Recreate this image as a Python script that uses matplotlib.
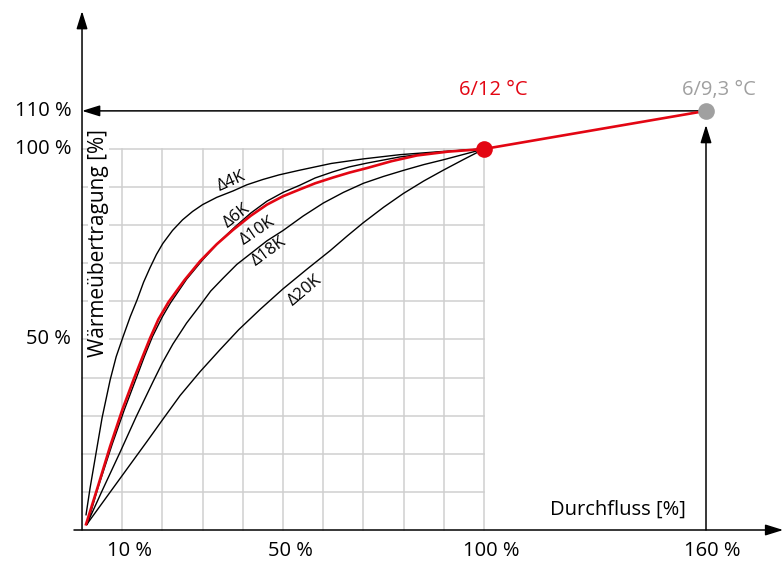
import matplotlib.pyplot as plt

# Schriftart (Myriad-aehnlich)
plt.rcParams['font.family'] = ['Open Sans', 'DejaVu Sans']

RED = '#E30613'
GREY = '#A0A0A0'
GRID = '#CFCFCF'

# Kurven: Durchfluss [%] -> Waermeuebertragung [%]
x_4k = [1, 2, 3.7, 5, 7, 8.5, 10.2, 12, 13.7, 15.3, 16.9, 18.5, 20.1, 22.5, 25,
        27.5, 30, 33.5, 37.6, 41, 45, 49, 54, 58, 62, 70, 79, 89, 100]
y_4k = [4, 11, 21.5, 29.5, 39.4, 45.5, 50.7, 56, 60.4, 65, 68.8, 72.3, 75.2, 78.6, 81.4,
        83.6, 85.4, 87.3, 89, 90.6, 92, 93.2, 94.4, 95.3, 96.2, 97.4, 98.5, 99.3, 100]

x_6k = [1.3, 4, 7.5, 10.5, 13.4, 15.5, 17.5, 20, 22, 26, 30, 34, 38, 42, 46,
        50, 54.2, 58, 62.4, 66.5, 70.9, 79, 87.3, 94, 100]
y_6k = [1.5, 11.2, 22.5, 31.5, 39.6, 45.5, 50.7, 56, 59.6, 65.8, 70.9, 75.5, 79.5, 83.2, 86.3,
        88.6, 90.5, 92.4, 94, 95.3, 96.3, 97.9, 99, 99.6, 100]

x_10k = [1.2, 5, 9.5, 13.5, 17.7, 20, 22.6, 26, 29.4, 32, 35, 38.5, 42.5, 46, 50,
         55, 60, 65, 70, 75, 80, 85, 90, 95, 100]
y_10k = [1.5, 10.3, 20.5, 29.8, 39, 43.9, 48.8, 54.3, 59, 62.7, 66, 69.7, 73, 75.9, 78.6,
         82.4, 85.8, 88.6, 91, 92.8, 94.4, 95.9, 97.2, 98.6, 100]

x_20k = [1.2, 8, 16.2, 20, 24.4, 29.4, 34.3, 39, 44.3, 50, 56, 61.7, 66,
         69.9, 75, 79.9, 85, 89.8, 95, 100]
y_20k = [1.5, 11.4, 23.3, 28.9, 35.3, 41.6, 47.3, 52.6, 57.9, 63.3, 68.5, 73.3, 77.2,
         80.6, 84.7, 88.3, 91.6, 94.4, 97.3, 100]

# rote Kurve 6/12 °C
x_red = [1, 4, 7, 10, 12.8, 15, 16.9, 19, 21.5, 25.5, 29.4, 33.5, 37.6, 42, 46,
         50, 54.2, 58, 62.4, 66.5, 70.9, 77, 83.3, 91, 100]
y_red = [1.5, 11.6, 22, 31.5, 39.4, 45.3, 50.3, 55.3, 59.8, 65.6, 70.6, 75, 78.8, 82.5, 85.4,
         87.6, 89.4, 91, 92.5, 93.8, 95, 96.8, 98.3, 99.3, 100]

# Betriebspunkte
p_red = (100, 100)
p_grey = (155.2, 110)   # schematisch als 160 % dargestellt

x_ticks = [10, 50, 100]
x_tick_labels = ['10 %', '50 %', '100 %']
y_ticks = [50, 100, 110]
y_tick_labels = ['50 %', '100 %', '110 %']

curve_labels = ['Δ4K', 'Δ6K', 'Δ10K', 'Δ18K', 'Δ20K']
label_pos = [(37.3, 91.5), (38.4, 82.5), (43.6, 78.5), (46.5, 73.0), (55.5, 63.0)]
label_rot = [24, 38, 34, 36, 40]

fig = plt.figure(figsize=(7.84, 5.63), dpi=100)
ax = fig.add_axes([0, 0, 1, 1])
ax.set_xlim(-20.4, 174.6)
ax.set_ylim(-8.66, 139.1)
ax.axis('off')

# Raster
for gx in range(10, 101, 10):
    ax.plot([gx, gx], [0, 100], color=GRID, lw=1.1, zorder=1)
for gy in range(10, 101, 10):
    ax.plot([0, 100], [gy, gy], color=GRID, lw=1.1, zorder=1)

# Achsen mit Pfeilen
arrow = dict(arrowstyle='-|>,head_length=0.9,head_width=0.28', color='black',
             lw=1.1, shrinkA=0, shrinkB=0, mutation_scale=12)
ax.annotate('', xy=(174.4, 0), xytext=(-2, 0), arrowprops=arrow, zorder=5)
ax.annotate('', xy=(0, 136.2), xytext=(0, 0), arrowprops=arrow, zorder=5)

# Hilfspfeile zum grauen Punkt
ax.annotate('', xy=(0, p_grey[1]), xytext=(p_grey[0], p_grey[1]), arrowprops=arrow, zorder=3)
ax.annotate('', xy=(p_grey[0], 106.3), xytext=(p_grey[0], 0), arrowprops=arrow, zorder=3)

# Kurven
for xs, ys in [(x_4k, y_4k), (x_6k, y_6k), (x_10k, y_10k), (x_20k, y_20k)]:
    ax.plot(xs, ys, color='black', lw=1.0, zorder=3, solid_joinstyle='round')
ax.plot(x_red, y_red, color=RED, lw=1.9, zorder=4, solid_joinstyle='round')
ax.plot([p_red[0], p_grey[0]], [p_red[1], p_grey[1]], color=RED, lw=1.9, zorder=4)

ax.plot(*p_grey, 'o', color=GREY, ms=12, mec='none', zorder=4)
ax.plot(*p_red, 'o', color=RED, ms=12, mec='none', zorder=6)

for txt, (lx, ly), rot in zip(curve_labels, label_pos, label_rot):
    ax.text(lx, ly, txt, rotation=rot, ha='center', va='center',
            fontsize=12, rotation_mode='anchor', zorder=5)

ax.text(102.2, 115.5, '6/12 °C', color=RED, fontsize=14.5, ha='center', va='center')
ax.text(158.5, 115.5, '6/9,3 °C', color=GREY, fontsize=14.5, ha='center', va='center')

# Achsenbeschriftungen
for xv, lab in zip(x_ticks, x_tick_labels):
    ax.text(xv + 1.8, -5.6, lab, ha='center', va='center', fontsize=14.5)
ax.text(p_grey[0] + 1.5, -5.6, '160 %', ha='center', va='center', fontsize=14.5)
for yv, lab in zip(y_ticks, y_tick_labels):
    ax.text(-2.7, yv, lab, ha='right', va='center', fontsize=14.5)

ax.text(4.0, 75.3, 'Wärmeübertragung [%]', rotation=90, ha='center', va='center',
        fontsize=15, zorder=4,
        bbox=dict(facecolor='white', edgecolor='none', pad=0))
ax.text(133.3, 5.3, 'Durchfluss [%]', ha='center', va='center', fontsize=14.5)

fig.savefig('out.png', dpi=100, facecolor='white')
